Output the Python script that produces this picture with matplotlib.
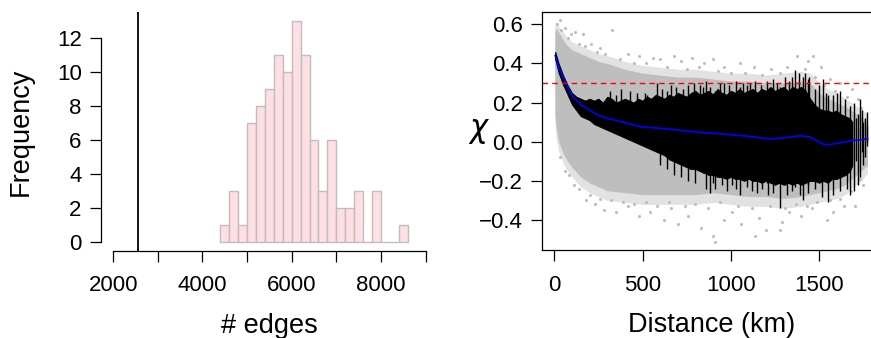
import matplotlib
matplotlib.use("Agg")
import matplotlib.pyplot as plt
import numpy as np

plt.rcParams['font.family'] = ['Liberation Sans', 'DejaVu Sans']

# left panel: histogram of edge counts
bin_start = 4400
bin_width = 200
counts = [1, 3, 1, 7, 8, 9, 11, 10, 13, 11, 6, 3, 6, 2, 2, 3, 0, 3, 0, 0, 1]
observed_edges = 2560

# right panel: chi vs distance
# dense grey cloud envelope
gx = [3, 10, 25, 50, 75, 100, 150, 200, 250, 300, 400, 500, 600, 700, 800, 900,
      1000, 1100, 1200, 1300, 1400, 1450, 1500, 1550, 1600, 1650, 1700, 1750, 1775]
g_hi = [0.56, 0.58, 0.56, 0.52, 0.49, 0.47, 0.45, 0.43, 0.41, 0.40, 0.37, 0.35, 0.34, 0.33,
        0.33, 0.32, 0.31, 0.31, 0.30, 0.30, 0.31, 0.30, 0.25, 0.22, 0.20, 0.18, 0.15, 0.12, 0.10]
g_lo = [0.15, 0.08, 0.0, -0.06, -0.10, -0.13, -0.18, -0.21, -0.23, -0.25, -0.26, -0.27, -0.27,
        -0.27, -0.27, -0.26, -0.27, -0.28, -0.28, -0.29, -0.28, -0.27, -0.26, -0.25, -0.24,
        -0.22, -0.18, -0.14, -0.12]
# sparse fringe of the cloud
go_hi = [0.61, 0.61, 0.59, 0.56, 0.53, 0.51, 0.49, 0.47, 0.45, 0.44, 0.41, 0.39, 0.38, 0.37,
         0.37, 0.36, 0.35, 0.35, 0.34, 0.35, 0.36, 0.35, 0.30, 0.27, 0.25, 0.22, 0.19, 0.16, 0.14]
go_lo = [0.10, 0.02, -0.05, -0.11, -0.15, -0.18, -0.23, -0.26, -0.28, -0.30, -0.31, -0.32,
         -0.32, -0.32, -0.32, -0.31, -0.32, -0.33, -0.33, -0.34, -0.33, -0.32, -0.31, -0.30,
         -0.29, -0.27, -0.23, -0.19, -0.16]
# grey points around the edge of the cloud and beyond it
px = [30, 60, 120, 160, 325, 210, 260, 420, 480, 560, 600, 680, 720, 780, 850, 900, 960,
      1050, 1130, 1230, 1320, 1374, 1440, 1465, 1510, 1560, 1620, 1690, 1720,
      60, 110, 180, 230, 280, 350, 420, 480, 540, 620, 660, 700, 760, 830, 900, 911, 960,
      1010, 1060, 1137, 1160, 1200, 1279, 1290, 1330, 1400, 1460, 1544, 1580, 1640, 1705, 1750,
      15, 40, 80, 95, 140, 175, 240, 290, 370, 450, 520, 640, 750, 820, 930, 1000, 1080,
      1180, 1280, 1420, 1480, 1530, 1590, 1660, 1740,
      35, 85, 140, 200, 260, 320, 390, 450, 520, 580, 650, 740, 800, 870, 940, 1040, 1120,
      1220, 1310, 1370, 1430, 1490, 1560, 1620, 1680, 1730]
py = [0.62, 0.58, 0.56, 0.55, 0.57, 0.50, 0.48, 0.45, 0.44, 0.43, 0.42, 0.44, 0.41, 0.43,
      0.40, 0.42, 0.38, 0.40, 0.38, 0.37, 0.38, 0.44, 0.41, 0.44, 0.38, 0.32, 0.30, 0.27, 0.22,
      -0.15, -0.22, -0.30, -0.32, -0.35, -0.36, -0.33, -0.38, -0.36, -0.40, -0.34, -0.42,
      -0.38, -0.44, -0.48, -0.51, -0.40, -0.36, -0.42, -0.48, -0.39, -0.45, -0.45, -0.41,
      -0.36, -0.38, -0.34, -0.40, -0.36, -0.33, -0.33, -0.22,
      0.60, 0.57, 0.53, 0.55, 0.50, 0.49, 0.46, 0.45, 0.42, 0.40, 0.40, 0.38, 0.37, 0.38,
      0.36, 0.35, 0.35, 0.34, 0.35, 0.37, 0.33, 0.29, 0.26, 0.23, 0.17,
      -0.08, -0.17, -0.24, -0.27, -0.29, -0.30, -0.31, -0.32, -0.31, -0.33, -0.31, -0.33,
      -0.32, -0.34, -0.31, -0.33, -0.34, -0.33, -0.34, -0.32, -0.33, -0.31, -0.30, -0.29,
      -0.25, -0.19]

# black band of intervals
bx = [5, 25, 50, 75, 100, 125, 150, 175, 200, 225, 250, 275, 300, 325, 350, 375, 400, 425,
      450, 475, 500, 525, 550, 575, 600, 625, 650, 675, 700, 725, 750, 775, 800, 825, 850,
      875, 900, 925, 950, 975, 1000, 1025, 1050, 1075, 1100, 1125, 1150, 1175, 1200, 1225,
      1250, 1275, 1300, 1325, 1350, 1375, 1400, 1425, 1450, 1475, 1500, 1525, 1550, 1575,
      1600, 1625, 1650, 1675, 1690]
b_hi = [0.46, 0.40, 0.34, 0.29, 0.25, 0.23, 0.22, 0.21, 0.22, 0.21, 0.22, 0.20, 0.23, 0.22,
        0.20, 0.21, 0.22, 0.21, 0.20, 0.22, 0.21, 0.23, 0.22, 0.24, 0.23, 0.22, 0.24, 0.23,
        0.25, 0.24, 0.23, 0.25, 0.26, 0.24, 0.25, 0.26, 0.24, 0.27, 0.25, 0.24, 0.26, 0.25,
        0.27, 0.25, 0.26, 0.27, 0.25, 0.27, 0.26, 0.28, 0.26, 0.27, 0.28, 0.26, 0.28, 0.27,
        0.28, 0.26, 0.22, 0.19, 0.17, 0.16, 0.16, 0.15, 0.16, 0.14, 0.13, 0.12, 0.10]
b_lo = [0.42, 0.35, 0.29, 0.24, 0.19, 0.16, 0.13, 0.12, 0.11, 0.09, 0.08, 0.07, 0.06, 0.05,
        0.04, 0.03, 0.02, 0.01, 0.00, -0.01, -0.02, -0.03, -0.04, -0.05, -0.06, -0.07, -0.09,
        -0.10, -0.11, -0.12, -0.13, -0.14, -0.14, -0.15, -0.16, -0.17, -0.17, -0.18, -0.18,
        -0.19, -0.18, -0.19, -0.19, -0.20, -0.19, -0.20, -0.20, -0.21, -0.20, -0.21, -0.22,
        -0.21, -0.22, -0.21, -0.22, -0.21, -0.22, -0.21, -0.20, -0.20, -0.21, -0.20, -0.21,
        -0.19, -0.19, -0.18, -0.17, -0.15, -0.12]
# individual long intervals
sx = [316, 350, 515, 525, 580, 825, 840, 900, 911, 939, 1006, 1053, 1070, 1091, 1204, 1212,
      1280, 1308, 1365, 1410, 1438, 1523, 1552, 1602, 1676, 1700, 1712, 1722, 1733, 1742,
      1750, 1760, 1770, 1775]
s_lo = [0.10, 0.10, 0.0, -0.02, -0.05, -0.15, -0.16, -0.21, -0.24, -0.17, -0.22, -0.27,
        -0.19, -0.23, -0.21, -0.27, -0.34, -0.22, -0.23, -0.30, -0.22, -0.20, -0.31, -0.19,
        -0.27, -0.25, -0.10, -0.22, -0.18, -0.05, -0.12, -0.08, -0.02, 0.0]
s_hi = [0.26, 0.24, 0.25, 0.24, 0.30, 0.29, 0.28, 0.25, 0.26, 0.30, 0.26, 0.28, 0.30, 0.29,
        0.31, 0.27, 0.28, 0.33, 0.365, 0.33, 0.32, 0.32, 0.24, 0.25, 0.18, 0.20, 0.12, 0.14,
        0.22, 0.16, 0.10, 0.12, 0.15, 0.08]
# shorter spikes sticking out of the band, upwards and downwards
up_x = [380, 430, 470, 610, 640, 660, 690, 730, 760, 790, 860, 880, 960, 990, 1030, 1110,
        1140, 1170, 1240, 1260, 1330, 1350, 1385, 1420, 1445, 1480, 1500, 1540, 1580, 1620, 1650]
up_hi = [0.27, 0.26, 0.25, 0.27, 0.26, 0.29, 0.28, 0.27, 0.29, 0.30, 0.31, 0.28, 0.30, 0.29,
         0.31, 0.30, 0.31, 0.29, 0.32, 0.30, 0.31, 0.33, 0.35, 0.35, 0.33, 0.27, 0.29, 0.25,
         0.24, 0.26, 0.22]
down_x = [600, 640, 680, 720, 760, 800, 860, 880, 950, 980, 1030, 1120, 1150, 1180, 1240,
          1320, 1350, 1390, 1440, 1480, 1520, 1580, 1620, 1660]
down_lo = [-0.12, -0.14, -0.17, -0.18, -0.20, -0.21, -0.24, -0.26, -0.22, -0.25, -0.24,
           -0.25, -0.26, -0.24, -0.26, -0.27, -0.25, -0.27, -0.26, -0.24, -0.28, -0.27,
           -0.25, -0.24]

# loess smooth
lx = [5, 25, 50, 75, 106, 150, 202, 250, 298, 390, 485, 580, 700, 800, 900, 1000, 1100,
      1223, 1300, 1393, 1450, 1500, 1524, 1560, 1620, 1700, 1775]
ly = [0.44, 0.38, 0.33, 0.28, 0.23, 0.19, 0.16, 0.135, 0.12, 0.10, 0.077, 0.07, 0.06, 0.05,
      0.043, 0.036, 0.028, 0.014, 0.02, 0.03, 0.025, 0.0, -0.013, -0.015, -0.005, 0.007, 0.014]
threshold = 0.3

W, H = 871, 338
fig = plt.figure(figsize=(W / 100, H / 100), dpi=100)

tick_fs = 16
lab_fs = 19.5

# ---- left: histogram
ax1 = fig.add_axes([100.7 / W, 1 - 250.5 / H, (438 - 100.7) / W, (250.5 - 12.2) / H])
edges = bin_start + bin_width * np.arange(len(counts))
ax1.bar(edges, counts, width=bin_width, align='edge', color='#FFDFE4',
        edgecolor='#BEBEBE', linewidth=1.0)
ax1.axvline(observed_edges, color='black', lw=1.3)
ax1.set_xlim(1720, 9280)
ax1.set_ylim(-0.52, 13.52)
for s in ['top', 'right']:
    ax1.spines[s].set_visible(False)
ax1.spines['left'].set_bounds(0, 12)
ax1.spines['bottom'].set_bounds(2000, 9000)
ax1.set_xticks(np.arange(2000, 9001, 1000))
ax1.set_xticklabels(['2000', '', '4000', '', '6000', '', '8000', ''])
ax1.set_yticks(np.arange(0, 13, 2))
ax1.set_ylabel('Frequency', fontsize=lab_fs, va='center')
ax1.yaxis.set_label_coords(-(100.7 - 21) / (438 - 100.7), 0.5)
ax1.set_xlabel('# edges', fontsize=lab_fs, va='center')
ax1.xaxis.set_label_coords(0.5, -(326 - 250.5) / (250.5 - 12.2))

# ---- right: chi vs distance
ax2 = fig.add_axes([542.3 / W, 1 - 250 / H, (880 - 542.3) / W, (250 - 12.3) / H])
ax2.fill_between(gx, go_lo, go_hi, color='#E2E2E2', lw=0)
ax2.fill_between(gx, g_lo, g_hi, color='#BEBEBE', lw=0)
ax2.scatter(px, py, s=5, color='#BEBEBE', linewidths=0)
ax2.fill_between(bx, b_lo, b_hi, color='black', lw=0.6)
ax2.vlines(sx, s_lo, s_hi, color='black', lw=1.0)
ax2.vlines(up_x, 0.1, up_hi, color='black', lw=1.0)
ax2.vlines(down_x, down_lo, 0.0, color='black', lw=1.0)
ax2.plot(lx, ly, color='blue', lw=1.2)
ax2.axhline(threshold, color='red', lw=1.0, dashes=(4, 3))
ax2.set_xlim(-68, 1846)
ax2.set_ylim(-0.553, 0.661)
ax2.set_xticks([0, 500, 1000, 1500])
ax2.set_yticks([-0.4, -0.2, 0.0, 0.2, 0.4, 0.6])
ax2.set_yticklabels(['\u22120.4', '\u22120.2', '0.0', '0.2', '0.4', '0.6'])
ax2.set_ylabel(r'$\chi$', fontsize=22, rotation=0, va='center', ha='center')
ax2.yaxis.set_label_coords(-(542.3 - 479) / (880 - 542.3), 0.5)
ax2.set_xlabel('Distance (km)', fontsize=lab_fs, va='center')
ax2.xaxis.set_label_coords(0.5, -(325 - 250) / (250 - 12.3))

for ax in (ax1, ax2):
    ax.tick_params(direction='out', length=7.7, width=0.9, labelsize=tick_fs)
    ax.tick_params(axis='x', pad=10)
    ax.tick_params(axis='y', pad=6)
    for s in ax.spines.values():
        s.set_linewidth(0.9)

fig.savefig('out.png', dpi=100)
